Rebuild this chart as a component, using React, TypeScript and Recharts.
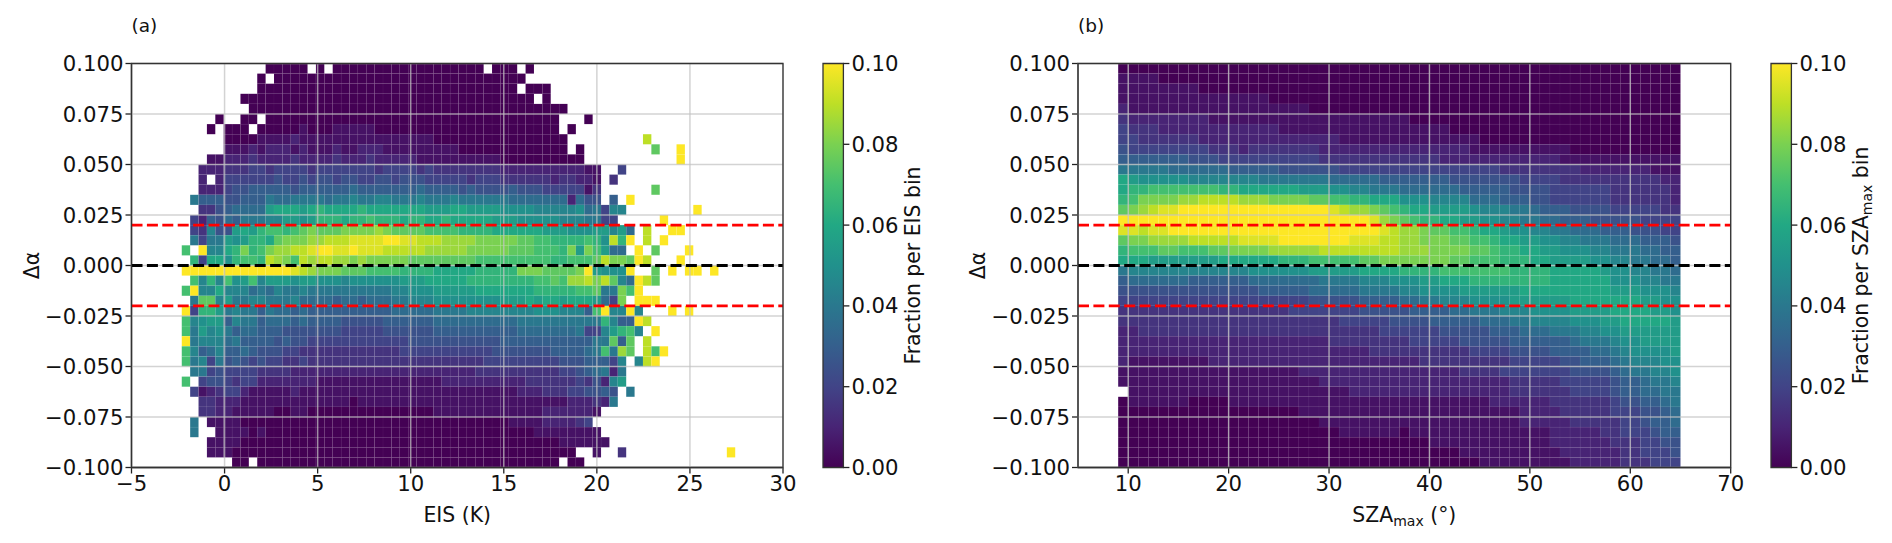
import { ScatterChart, Scatter, XAxis, YAxis, CartesianGrid, ReferenceLine, ReferenceArea } from "recharts"

// levels: a = 0.000, b = 0.005 ... u = 0.100, "." = empty bin. Spaces only there to keep columns readable.
const eisRows = [
  "..... ..... aaaaa .a.aa aaaaa aaaaa aaaaa a.aaa .a... ..... ..... ..... ..... .",
  "..... ....a .aaaa aaaaa aaaaa aaaaa aaaaa aaaaa a.... ..... ..... ..... ..... .",
  "..... ....a aaaaa aaaaa aaaaa aaaaa aaaaa aaaaa .aaa. ..... ..... ..... ..... .",
  "..... ..aaa aaaaa aaaaa aaaaa aaaaa aaaaa aaaaa aa.a. ..... ..... ..... ..... .",
  "..... ...aa aaaaa aaaaa aaaaa aaaaa aaaaa aaaaa aaaaa a.... ..... ..... ..... .",
  "....a ..aa. aaaaa aaaaa aaaaa aaaaa aaaaa aaaaa aaaaa ...a. ..... ..... ..... .",
  "...a. aaa.a aaaab aaabb bbbaa aaaaa aaaaa aaaaa aaaaa .a... ..... ..... ..... .",
  "..... aaaab bbbcb bbbbb bbbbb bbbbb aaaaa aaaaa aaaaa a.... ..... s.... ..... .",
  "..... bbbcb cccbc bbbcb bcccb bbbbb bbbaa aaaaa aaaaa a.a.. ..... .p..u ..... .",
  "...bb cccdc cccdc cccdc ccdcc cccbb bbbbb bbbaa aaaaa aaa.. ..... ....u ..... .",
  "..ccc dddee deeee deeee eeede eeede ddddd dddcc ccccc cccbb ..e.. ..... ..... .",
  "..c.c eeeee efeef effef feeff efffe eeeed eeedd ddddc ddccb .d... ..... ..... .",
  "..ccc effgg gggfg ggggg hgggg ggghg gggfg ffffg fffee eeebd ..... .p... ..... .",
  ".iggg ffggg ihhii iihii jiijj iiiji iijii iiiih hhhhh hchff .g.u. ..... ..... .",
  "..ddf ghhhh lmmml mnmmm mnmmm mmmml llmml lllkk kkjjj jjkhi ejj.. ..... .u... .",
  ".ecgf hgiii jjllk lnnnm nnonn nmnnm mnmmm mmlll kkkkk jjjii ee... ..u.. ..... .",
  ".edjf flmln oonop qpppq qqqrq ppppo ooonn nnmmm mmmll lkkkl ljlh. s..uu ..... .",
  ".ieii lklnn mpqqq rrsss ttttu uttss srrrr qqqqq ppoon nnnon ksnu. s.u.. ..... .",
  "o.ujj mnqno qrrss tuutt uttts ssssr rrrrq qqqqp ppooo nqlqo lhh.u .p... u.... .",
  ".nemm knoon srqos rssrr qrqqq qqppp ppppp ooooo oooon nooop sqqpu s...u ..... .",
  "uuuuu uuuuu uuuts rqqqp ppooo onnnn mmmmm nnnnn qqqpp ppqul kkku. .p.u. uu.u. .",
  ".ojnj okloj lllkl lkkkj kkkkk klllm mmmmn nnnnn nnoop orrsq spjhu sp... ..... .",
  "oujjm jjjhi hjiij iiiii iiiii jjkkk lllll mmmmm mmnnn nnoop iiqou ..... ..... .",
  ".ippj liijj iiijh hhhgh hghhh iijjj kkkkk kkkll lmlmm lmmml heq.u uu... ..... .",
  "uennl ijiig ihhgh ggggg ggggg hhhhh iiiij jjjjj jjkkk jjjgo ujjuj ...u. u.... .",
  "ojkll gjiig hhhgh ggggf ffffg ggggg hhhhh hhhhh iiiii iiiii njggu s.... ..... .",
  "oiljk ighhg ggfff ffffe eeeef fffff ggggg ggggg hhhhh hhiee jlnoj .u... ..... .",
  "uijjj higgg gfgff eeeee eeeee eefff fffff fffgg ggggg ggggi ipgp. s.... ..... .",
  "ojghj gghgf ffeed ddddd ddddd deeee eeeee eefff ffffg ggghi oirp. sou.. ..... .",
  "oijei fgfef eedde ddddd ddddd ddddd ddddd deeee eeeee fffgg gej.j su... ..... .",
  ".iief eeeed dddcc ccccc ccccc ccccc ccccc ddddd ddddd eefgh ici.. ..... ..... .",
  "o.eff edeec ccccc cbbbb bbbbb bbbbb bcccc ccccc cdddd ddedf cjl.. ..... ..... .",
  ".ebcd eecbb bbbcb bbbbb bbbbb bbbbb bbbbb bbbbb cccdd deeff gf.i. ..... ..... .",
  "..ddc ccbbb bbbbb bbbbb abbbb bbbbb bbbbb bbbbb bbbbb bcccd ci... ..... ..... .",
  "..ddc cbbbb baabb aaaaa aaaaa aaaaa bbbbb bbbbb bbbcc ccccb ..... ..... ..... .",
  ".i.bb bbaaa aaaaa aaaaa aaaaa aaaaa aaaaa aaaab bbbcc ccde. ..... ..... ..... .",
  ".i..b bbbab aaaaa aaaaa aaaaa aaaaa aaaaa aaaaa aabbb bbbbb ..... ..... ..... .",
  "...bb bbaaa aaaaa aaaaa aaaaa aaaaa aaaaa aaaaa aaaaa bbbbb b.... ..... ..... .",
  "...bb baaaa aaaaa aaaaa aaaaa aaaaa aaaaa aaaaa aaaaa aa..b ..d.. ..... ..... u",
  "..... .aa.a aaaaa aaaaa aaaaa aaaaa aaaaa aaaaa aaaaa .aa.. ..... ..... ..... .",
]

const szaRows = [
  "aaaaaaa aaaaaaa aaaaaaa aaaaaaa aaaaaaa aaaaaaa aaaaaaa aaaaaaa",
  "bbbbaaa aaaaaaa aaaaaaa aaaaaaa aaaaaaa aaaaaaa aaaaaaa aaaaaaa",
  "bbbbbbb baaaaaa aaaaaaa aaaaaaa aaaaaaa aaaaaaa aaaaaaa aaaaaaa",
  "bbbbbbb bbbbbbb baaaaaa aaaaaaa aaaaaaa aaaaaaa aaaaaaa aaaaaaa",
  "cbbbbbb bbbbbbb bbbbbaa aaaaaaa aaaaaaa aaaaaaa aaaaaaa aaaaaaa",
  "dcccccc ccbbbbb bbbbbbb bbbbbbb baaaaaa aaaaaaa aaaaaaa aaaaaaa",
  "edddccc ccccccc ccbbbbb bbbbbbb bbbbbaa aaaaaaa aaaaaaa aaaaaaa",
  "eeddddd dcccccc ccccccc cbbbbbb bbbbbbb baaaaaa aaaaaaa aaaaaaa",
  "feeeeee eedddcd ddddddc ccccccc ccccccc bbbbbbb bbbaaaa aaaaaaa",
  "ggggggg fffeeee eeeeeed ddddddd ddddccc ccccccc ccbbbbb bbbbbbb",
  "iiiiihh hhhhggg ggfffff feeeeee eeeeeee eeedddd ddddccc ccccbbb",
  "mlkkkkk jjjjjjj iiiiiii hhhhhgg gggggff fffffee eeddddd dddddcc",
  "mnnoooo ooonnmm mmmmlll kkjjiii hhhhhhg ggggfff feeeeee ddddddc",
  "noqqqqr rssssrr rqqqqpp oonnmmm kkkjjjj hhhgggf feeeeee ddddddc",
  "pqrsttu uuuuuuu uuuuuuu tsrrqpo nmmllll kjjjiih gggffff eeeeedd",
  "uuuuuuu uuuuuuu uuuuuuu uuuutrq ponnmml lkkjjii hhgggff fffeeee",
  "ttsttuu uuuuuuu uuuuuuu uuuuuts rrqppoo nmmlkkj jiihhhg ggfffee",
  "pqqrrrr ssssstt ttuuuuu uutttss rrqqqpp oonmmll kkjjiii hhhgggf",
  "noooppo ooppqqq qrrrrrs sssssss rrrqqqq pponnmm llkkkjj iiihhgg",
  "mmmllll lllmmmm mmnnnoo oooppqq qqqqqpp ooonnnm mllllkk jjiihhg",
  "ijjjjjj jjjjjjk kkkkkll lllmmmm nnnnooo oooonnn nmmmmml kkjjiih",
  "ghhhhhh ggggggh hhhhhhi iiijjjk kkllmmm nnnnnnn nmmmmmm kkkjjii",
  "fffffff fffffff ggggghh hhhiiii jjkkkkl lllllmm mmmmmmm lllkkkj",
  "eeeeeee eeeeeee eeeeeff fffgggg hhiijjj kkkklll lllmmmm mmmllkk",
  "ddddddd ddddddd dddeeee eeeffff fgggghh iiijjjk kkkllll mmmmllk",
  "ddddddd ddddddd ddddddd deeeeef fffgggg ghhhiij jjjkkkl lmmmmml",
  "ccddddd ddddddd ddddddd dddddee eeeefff ffggghh hiiijjk kllllll",
  "ccccccc ccccccc ccccccc ddddddd deeeeef ffffggg ggghiii jkkllll",
  "ccccccc ccccccc ccccccc ccccddd ddddddd eeeefff fgggghh ijkkkkl",
  "cbbbbbb bbccccc ccccccc ccccccc ccddddd ddddeee eeffggg hijjjkk",
  "bbbbbbb bbbbbbb bbbbccc ccccccc ccccccd dddeeee eeeffff ghiijjk",
  "bbbbbbb bbbbbbb bbbbbbc ccccccc ccccccc ccccddd ddeeeee fgghiij",
  ".bbbbbb bbbbbbb bbbbbbb bbccccc ccccccc ccccddd dddeeee fgghhii",
  "abbbbbb aaaabbb bbbbbbb bbbbbbb bbbbbbb bbccccc cdddddd effgghi",
  "aaaaaaa aaaaaaa aaaabbb bbbbbbb bbbbbbb bbbbbcc ccddddd eeeffgh",
  "aaaaaaa aaaaaaa aaaaaab bbbbbbb bbbbbbb bbbbbcc cccdddd deefggh",
  "aaaaaaa aaaaaaa aaaaaaa abbbbbb abbbbbb bbbbbbb bcccccd deeefgg",
  "aaaaaaa aaaaaaa aaaaaaa aaaaaaa aaabbbb bbbbbbb bcccccc dddeeff",
  "aaaaaaa aaaaaaa aaaaaaa aaaaaaa aaaaaab bbbbbbb bbccccc cddeeef",
  "aaaaaaa aaaaaaa aaaaaaa aaaaaaa aaaaaaa abbbbbb bbbcccc cdddeee",
]

const eisTicks = [-5, 0, 5, 10, 15, 20, 25, 30]
const szaTicks = [10, 20, 30, 40, 50, 60, 70]
const alphaTicks = [-0.1, -0.075, -0.05, -0.025, 0, 0.025, 0.05, 0.075, 0.1]
const colorTicks = [0, 0.02, 0.04, 0.06, 0.08, 0.1]
const limitLines = [-0.02, 0.02]
const viridisStops = ["#440154", "#482475", "#414487", "#355f8d", "#2a788e", "#21918c", "#22a884", "#44bf70", "#7ad151", "#bddf26", "#fde725"]

const FONT = "DejaVu Sans"
const TICK_SIZE = 21.2
const LABEL_SIZE = 20.4
const LEVEL_STEP = 0.005
const ROW_HEIGHT = 0.005
const PLOT_TOP = 63.5
const PLOT_BOTTOM = 467.5
const HEIGHT = 543

const hexToRgb = (hex: string) => [1, 3, 5].map((i) => parseInt(hex.slice(i, i + 2), 16))

function viridis(value: number) {
  const t = Math.min(Math.max(value / 0.1, 0), 1) * (viridisStops.length - 1)
  const i = Math.min(Math.floor(t), viridisStops.length - 2)
  const a = hexToRgb(viridisStops[i])
  const b = hexToRgb(viridisStops[i + 1])
  const mix = a.map((c, k) => Math.round(c + (b[k] - c) * (t - i)))
  return `rgb(${mix.join(",")})`
}

function buildCells(rows: string[], xStart: number, binWidth: number) {
  const cells: { x: number; y: number; v: number }[] = []
  rows.forEach((row, r) => {
    row.replace(/ /g, "").split("").forEach((ch, c) => {
      if (ch === ".") return
      cells.push({
        x: xStart + (c + 0.5) * binWidth,
        y: 0.1 - (r + 0.5) * ROW_HEIGHT,
        v: (ch.charCodeAt(0) - 97) * LEVEL_STEP,
      })
    })
  })
  return cells
}

const formatAlpha = (v: number) => (v < 0 ? "\u2212" : "") + Math.abs(v).toFixed(3)
const formatX = (v: number) => (v < 0 ? "\u2212" : "") + Math.abs(v)

interface HeatPanelProps {
  chartLeft: number
  chartWidth: number
  plotLeft: number
  plotRight: number
  xDomain: [number, number]
  xTicks: number[]
  rows: string[]
  xStart: number
  binWidth: number
  xLabel: React.ReactNode
  tag: string
}

function HeatPanel(props: HeatPanelProps) {
  const { chartLeft, chartWidth, plotLeft, plotRight, xDomain, xTicks, rows, xStart, binWidth, xLabel, tag } = props
  const cells = buildCells(rows, xStart, binWidth)
  const plotWidth = plotRight - plotLeft
  const cellW = (plotWidth / (xDomain[1] - xDomain[0])) * binWidth
  const cellH = ((PLOT_BOTTOM - PLOT_TOP) / 0.2) * ROW_HEIGHT
  const yAxisWidth = 100
  const xAxisHeight = 45
  const plotLeftInChart = plotLeft - chartLeft
  const midX = plotLeftInChart + plotWidth / 2

  const cellShape = (p: any) => (
    <rect
      x={p.cx - cellW / 2}
      y={p.cy - cellH / 2}
      width={cellW}
      height={cellH}
      fill={viridis(p.payload.v)}
      stroke="rgba(255,255,255,0.05)"
      strokeWidth={0.6}
    />
  )

  return (
    <div style={{ position: "absolute", left: chartLeft, top: 0 }}>
      <ScatterChart
        width={chartWidth}
        height={HEIGHT}
        margin={{
          left: plotLeftInChart - yAxisWidth,
          right: chartWidth - (plotRight - chartLeft),
          top: PLOT_TOP,
          bottom: HEIGHT - PLOT_BOTTOM - xAxisHeight,
        }}
      >
        <XAxis
          type="number"
          dataKey="x"
          domain={xDomain}
          ticks={xTicks}
          interval={0}
          allowDataOverflow
          height={xAxisHeight}
          tickFormatter={formatX}
          tick={{ fontSize: TICK_SIZE, fill: "#111", fontFamily: FONT }}
          tickLine={{ stroke: "#222", strokeWidth: 1.3 }}
          tickSize={6}
          axisLine={{ stroke: "#222", strokeWidth: 1.4 }}
          label={() => (
            <text x={midX} y={522} textAnchor="middle" fontSize={LABEL_SIZE} fontFamily={FONT} fill="#111">
              {xLabel}
            </text>
          )}
        />
        <YAxis
          type="number"
          dataKey="y"
          domain={[-0.1, 0.1]}
          ticks={alphaTicks}
          interval={0}
          allowDataOverflow
          width={yAxisWidth}
          tickFormatter={formatAlpha}
          tick={{ fontSize: TICK_SIZE, fill: "#111", fontFamily: FONT }}
          tickLine={{ stroke: "#222", strokeWidth: 1.3 }}
          tickSize={6}
          axisLine={{ stroke: "#222", strokeWidth: 1.4 }}
          label={() => (
            <text
              transform={`translate(${plotLeftInChart - 93},${(PLOT_TOP + PLOT_BOTTOM) / 2}) rotate(-90)`}
              textAnchor="middle"
              fontSize={LABEL_SIZE}
              fontFamily={FONT}
              fill="#111"
            >
              Δα
            </text>
          )}
        />
        <Scatter data={cells} shape={cellShape} isAnimationActive={false} />
        <CartesianGrid stroke="#c2c2c2" strokeOpacity={0.73} strokeWidth={1.5} zIndex={700} />
        {limitLines.map((y) => (
          <ReferenceLine key={y} y={y} stroke="#ff0000" strokeWidth={2.8} strokeDasharray="11 4.4" zIndex={800} />
        ))}
        <ReferenceLine y={0} stroke="#000" strokeWidth={2.8} strokeDasharray="11 4.4" zIndex={800} />
        <ReferenceArea
          x1={xDomain[0]}
          x2={xDomain[1]}
          y1={-0.1}
          y2={0.1}
          fill="none"
          fillOpacity={0}
          stroke="#333"
          strokeWidth={1.3}
          zIndex={900}
        />
      </ScatterChart>
      <span
        style={{
          position: "absolute",
          left: plotLeftInChart,
          top: 15,
          fontFamily: FONT,
          fontSize: 18.5,
          lineHeight: "22px",
          color: "#111",
          whiteSpace: "nowrap",
        }}
      >
        {tag}
      </span>
    </div>
  )
}

function ColorBar({ left, id, label }: { left: number; id: string; label: React.ReactNode }) {
  const chartLeft = left - 13
  const barWidth = 20.4
  const axisWidth = 80
  const width = 125
  const anchors = colorTicks.map((y) => ({ x: 0.5, y }))
  return (
    <div style={{ position: "absolute", left: chartLeft, top: 0 }}>
      <ScatterChart
        width={width}
        height={HEIGHT}
        margin={{ left: 13, right: width - 13 - barWidth - axisWidth, top: PLOT_TOP, bottom: HEIGHT - PLOT_BOTTOM }}
      >
        <defs>
          <linearGradient id={id} x1="0" y1="1" x2="0" y2="0">
            {viridisStops.map((c, i) => (
              <stop key={c} offset={i / (viridisStops.length - 1)} stopColor={c} />
            ))}
          </linearGradient>
        </defs>
        <XAxis type="number" dataKey="x" domain={[0, 1]} hide />
        <YAxis
          type="number"
          dataKey="y"
          orientation="right"
          domain={[0, 0.1]}
          ticks={colorTicks}
          interval={0}
          width={axisWidth}
          tickFormatter={(v: number) => v.toFixed(2)}
          tick={{ fontSize: TICK_SIZE, fill: "#111", fontFamily: FONT }}
          tickLine={{ stroke: "#222", strokeWidth: 1.3 }}
          tickSize={6}
          axisLine={false}
          label={() => (
            <text
              transform={`translate(${13 + 97.3},${(PLOT_TOP + PLOT_BOTTOM) / 2}) rotate(-90)`}
              textAnchor="middle"
              fontSize={LABEL_SIZE}
              fontFamily={FONT}
              fill="#111"
            >
              {label}
            </text>
          )}
        />
        <ReferenceArea x1={0} x2={1} y1={0} y2={0.1} fill={`url(#${id})`} fillOpacity={1} stroke="#333" strokeWidth={1.3} />
        <Scatter data={anchors} shape={() => null} isAnimationActive={false} />
      </ScatterChart>
    </div>
  )
}

export default function App() {
  return (
    <div style={{ position: "absolute", left: 0, top: 0, width: 1892, height: HEIGHT, background: "#fff", overflow: "hidden" }}>
      <HeatPanel
        chartLeft={0}
        chartWidth={800}
        plotLeft={131.5}
        plotRight={783}
        xDomain={[-5, 30]}
        xTicks={eisTicks}
        rows={eisRows}
        xStart={-2.3}
        binWidth={0.4505}
        xLabel="EIS (K)"
        tag="(a)"
      />
      <ColorBar left={823.3} id="cbarA" label="Fraction per EIS bin" />
      <HeatPanel
        chartLeft={947}
        chartWidth={800}
        plotLeft={1078}
        plotRight={1730.7}
        xDomain={[5, 70]}
        xTicks={szaTicks}
        rows={szaRows}
        xStart={9}
        binWidth={1}
        xLabel={
          <>
            SZA
            <tspan fontSize={14} dy={4}>max</tspan>
            <tspan dy={-4}> (°)</tspan>
          </>
        }
        tag="(b)"
      />
      <ColorBar
        left={1770.7}
        id="cbarB"
        label={
          <>
            Fraction per SZA
            <tspan fontSize={14} dy={4}>max</tspan>
            <tspan dy={-4}> bin</tspan>
          </>
        }
      />
    </div>
  )
}
